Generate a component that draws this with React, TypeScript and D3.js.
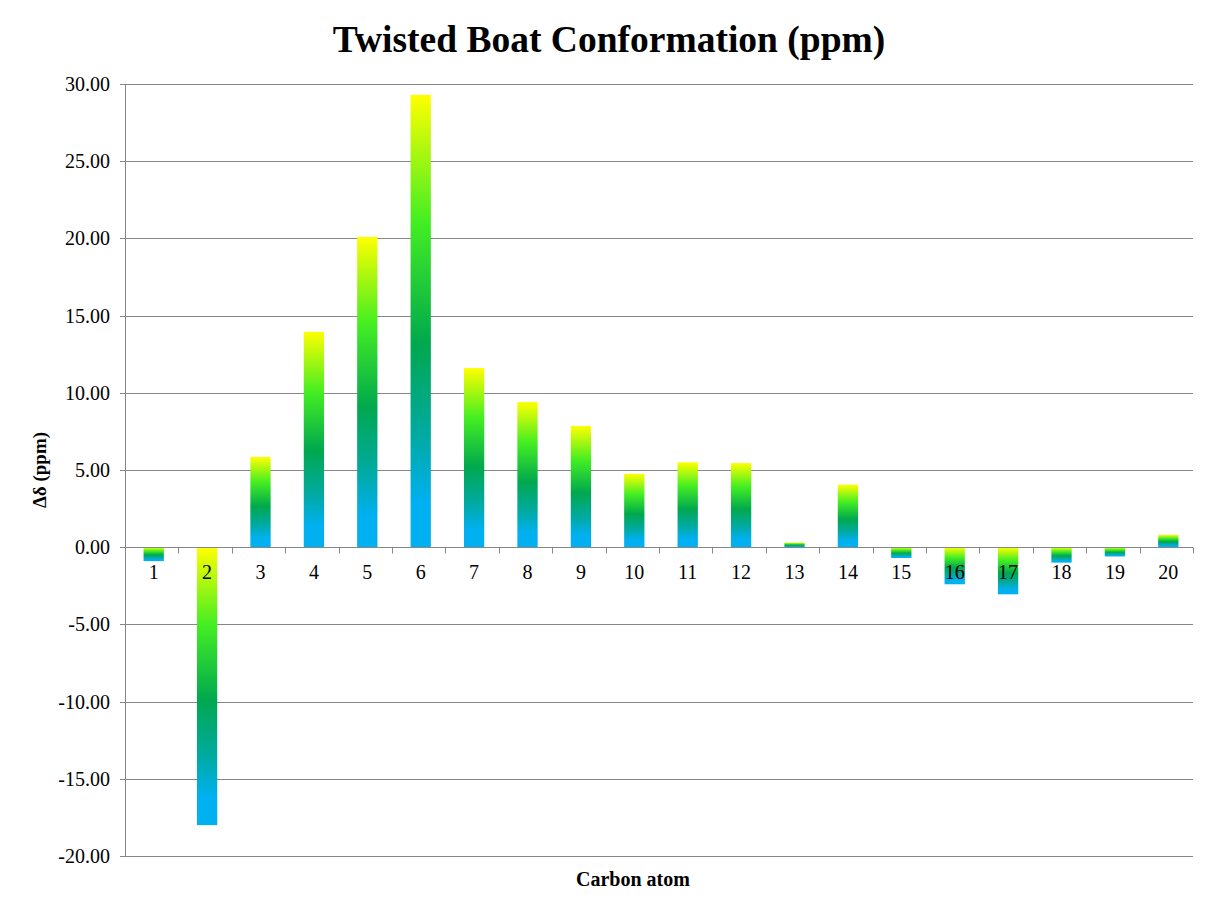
import React, { useRef, useEffect } from 'react';
import * as d3 from 'd3';

const atoms: string[] = ['1', '2', '3', '4', '5', '6', '7', '8', '9', '10', '11', '12', '13', '14', '15', '16', '17', '18', '19', '20'];
const shifts: number[] = [-0.9, -18.0, 5.85, 13.95, 20.1, 29.3, 11.6, 9.4, 7.85, 4.75, 5.5, 5.45, 0.3, 4.05, -0.7, -2.4, -3.05, -1.0, -0.6, 0.8];
const yTicks: number[] = [30, 25, 20, 15, 10, 5, 0, -5, -10, -15, -20];

const App: React.FC = () => {
    const width = 1217;
    const height = 910;
    const marginL = 125;
    const marginR = 24;
    const marginT = 84;
    const marginB = 54;

    const svgRef = useRef<SVGSVGElement>(null);

    useEffect(() => {
        if (!svgRef.current) return;
        const svg = d3.select(svgRef.current);
        svg.selectAll('*').remove();

        const font = '"Liberation Serif", "Times New Roman", serif';
        const grey = '#868686';

        const xScale = d3.scaleBand<string>()
            .domain(atoms)
            .range([marginL, width - marginR])
            .paddingInner(0.62)
            .paddingOuter(0.31);
        const barShift = 2;

        const yScale = d3.scaleLinear()
            .domain([-20, 30])
            .range([height - marginB, marginT]);

        // bar gradient: yellow at top, blue at bottom
        const grad = svg.append('defs').append('linearGradient')
            .attr('id', 'barFill')
            .attr('x1', 0).attr('y1', 0).attr('x2', 0).attr('y2', 1);
        const stops: [number, string][] = [
            [0, '#ffff00'],
            [0.28, '#44ee22'],
            [0.55, '#00a84e'],
            [0.75, '#00aaa0'],
            [0.9, '#00b0f0'],
            [1, '#00b0f0'],
        ];
        grad.selectAll('stop')
            .data(stops)
            .enter()
            .append('stop')
            .attr('offset', d => d[0])
            .attr('stop-color', d => d[1]);

        // gridlines
        svg.append('g')
            .selectAll('line')
            .data(yTicks)
            .enter()
            .append('line')
            .attr('x1', marginL - 5)
            .attr('x2', width - marginR)
            .attr('y1', d => Math.round(yScale(d)) + 0.5)
            .attr('y2', d => Math.round(yScale(d)) + 0.5)
            .attr('stroke', grey)
            .attr('stroke-width', 1);

        // y axis line
        svg.append('line')
            .attr('x1', marginL + 0.5).attr('x2', marginL + 0.5)
            .attr('y1', marginT).attr('y2', height - marginB)
            .attr('stroke', grey);

        // y tick labels
        svg.append('g')
            .selectAll('text')
            .data(yTicks)
            .enter()
            .append('text')
            .attr('x', marginL - 15)
            .attr('y', d => yScale(d))
            .attr('dy', '0.35em')
            .attr('text-anchor', 'end')
            .attr('font-family', font)
            .attr('font-size', 20)
            .attr('fill', '#000')
            .text(d => d.toFixed(2));

        // bars
        svg.append('g')
            .selectAll('rect')
            .data(shifts)
            .enter()
            .append('rect')
            .attr('x', (d, i) => xScale(atoms[i])! + barShift)
            .attr('width', xScale.bandwidth())
            .attr('y', d => yScale(Math.max(0, d)))
            .attr('height', d => Math.abs(yScale(d) - yScale(0)))
            .attr('fill', 'url(#barFill)');

        // category axis at zero
        const y0 = Math.round(yScale(0)) + 0.5;
        svg.append('line')
            .attr('x1', marginL).attr('x2', width - marginR)
            .attr('y1', y0).attr('y2', y0)
            .attr('stroke', grey);

        const step = xScale.step();
        const bounds = d3.range(atoms.length + 1).map(i => marginL + i * step);
        svg.append('g')
            .selectAll('line')
            .data(bounds)
            .enter()
            .append('line')
            .attr('x1', d => Math.round(d) + 0.5)
            .attr('x2', d => Math.round(d) + 0.5)
            .attr('y1', y0)
            .attr('y2', y0 + 6)
            .attr('stroke', grey);

        svg.append('g')
            .selectAll('text')
            .data(atoms)
            .enter()
            .append('text')
            .attr('x', d => xScale(d)! + xScale.bandwidth() / 2 + barShift)
            .attr('y', y0 + 31)
            .attr('text-anchor', 'middle')
            .attr('font-family', font)
            .attr('font-size', 20)
            .attr('fill', '#000')
            .text(d => d);

        // title and axis titles
        svg.append('text')
            .attr('x', 609)
            .attr('y', 52)
            .attr('text-anchor', 'middle')
            .attr('font-family', font)
            .attr('font-weight', 'bold')
            .attr('font-size', 37.5)
            .text('Twisted Boat Conformation (ppm)');

        svg.append('text')
            .attr('x', 633)
            .attr('y', 886)
            .attr('text-anchor', 'middle')
            .attr('font-family', font)
            .attr('font-weight', 'bold')
            .attr('font-size', 20)
            .text('Carbon atom');

        svg.append('text')
            .attr('transform', 'translate(46,470) rotate(-90)')
            .attr('text-anchor', 'middle')
            .attr('font-family', font)
            .attr('font-weight', 'bold')
            .attr('font-size', 19)
            .text('Δδ (ppm)');
    }, []);

    return (
        <svg
            ref={svgRef}
            width={width}
            height={height}
            style={{ position: 'absolute', left: 0, top: 0, background: '#fff' }}
        />
    );
};

export default App;
